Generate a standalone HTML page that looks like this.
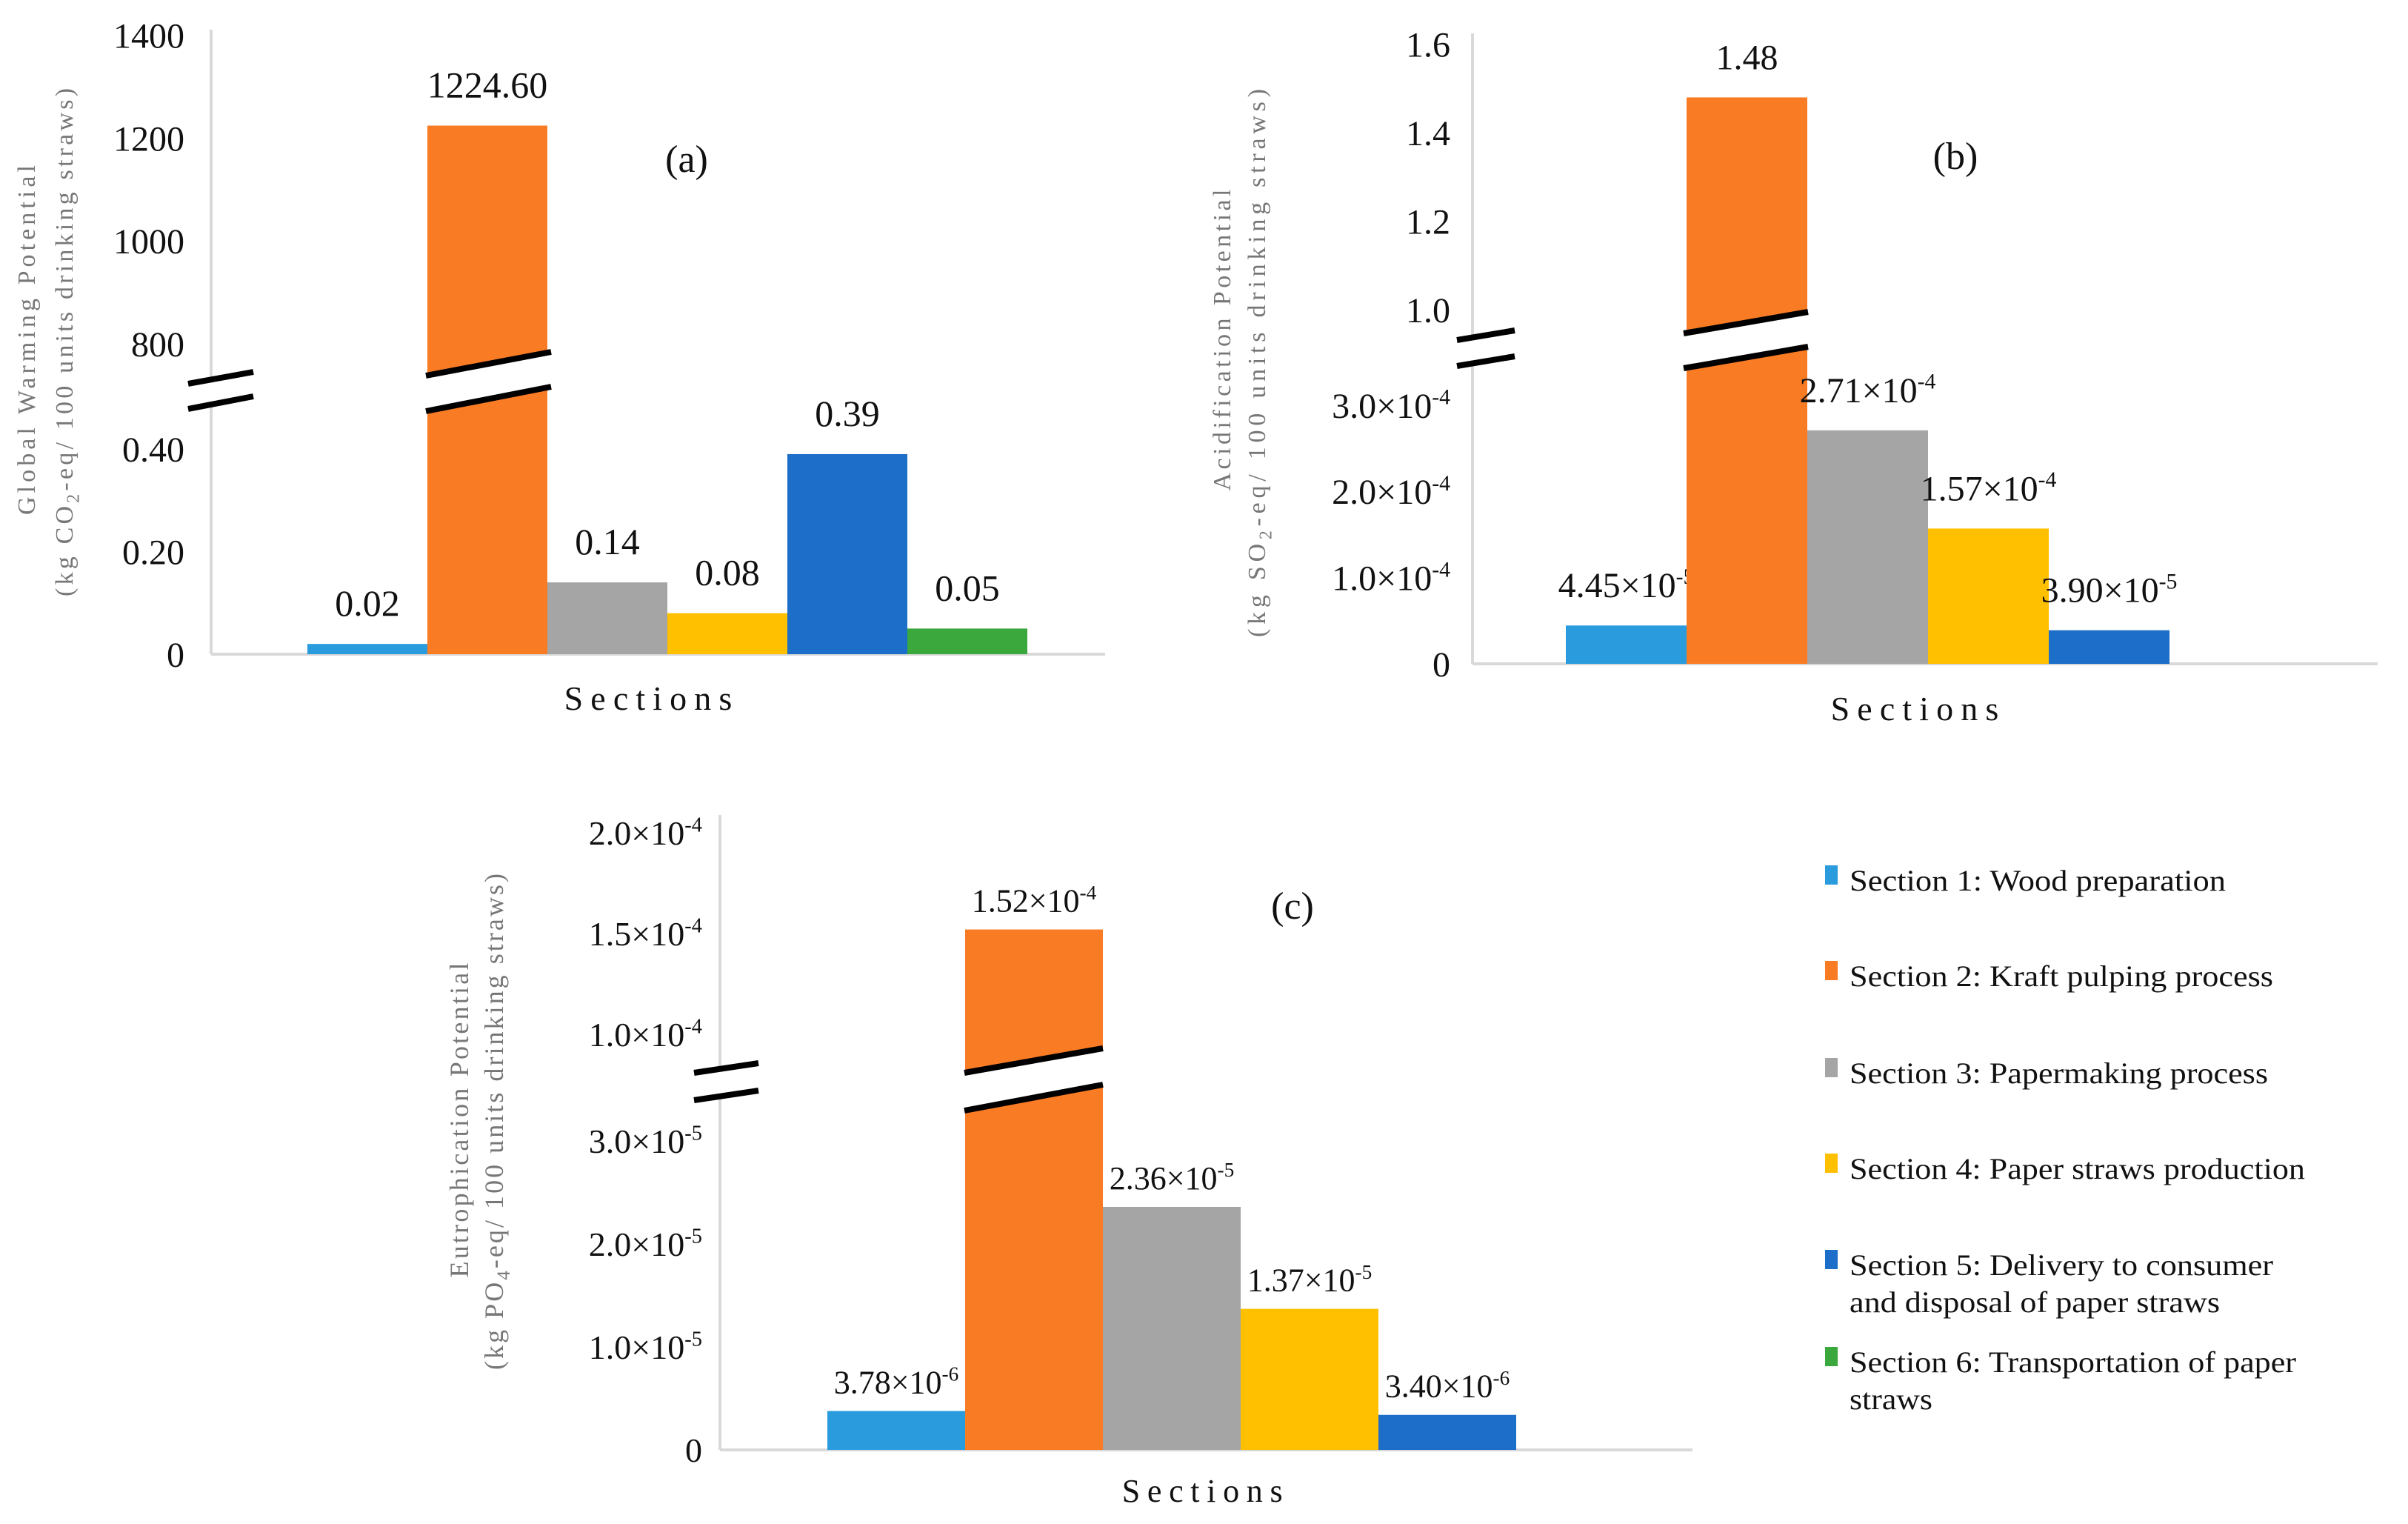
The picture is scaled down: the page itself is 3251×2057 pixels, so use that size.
<!DOCTYPE html>
<html><head><meta charset="utf-8"><style>
html,body{margin:0;padding:0;background:#fff;}
svg{display:block;}
text{font-family:"Liberation Serif",serif;fill:#111;}
.ytitle{fill:#777;}
</style></head><body>
<svg id="fig" width="3251" height="2057" viewBox="0 0 3251 2057" xmlns="http://www.w3.org/2000/svg">
<g id="chartA"></g>
<g id="chartB"></g>
<g id="chartC"></g>
<g id="legend"></g>
</svg>
<script>
const colors = ["#2a9bdc","#f97b24","#a5a5a5","#ffc000","#1c6ec8","#3aa83c"];
const legendNames = [["Section 1: Wood preparation"],["Section 2: Kraft pulping process"],["Section 3: Papermaking process"],["Section 4: Paper straws production"],["Section 5: Delivery to consumer","and disposal of paper straws"],["Section 6: Transportation of paper","straws"]];

const catsA = ["S1","S2","S3","S4","S5","S6"];
const valsA = [0.02, 1224.60, 0.14, 0.08, 0.39, 0.05];
const labelsA = [["0.02"],["1224.60"],["0.14"],["0.08"],["0.39"],["0.05"]];
const ticksLowA = [0, 0.2, 0.4];
const tickLabLowA = [["0"],["0.20"],["0.40"]];
const ticksUpA = [800, 1000, 1200, 1400];
const tickLabUpA = [["800"],["1000"],["1200"],["1400"]];

const catsB = ["S1","S2","S3","S4","S5"];
const valsB = [4.45e-5, 1.48, 2.71e-4, 1.57e-4, 3.90e-5];
const labelsB = [["4.45×10","-5"],["1.48"],["2.71×10","-4"],["1.57×10","-4"],["3.90×10","-5"]];
const ticksLowB = [0, 1e-4, 2e-4, 3e-4];
const tickLabLowB = [["0"],["1.0×10","-4"],["2.0×10","-4"],["3.0×10","-4"]];
const ticksUpB = [1.0, 1.2, 1.4, 1.6];
const tickLabUpB = [["1.0"],["1.2"],["1.4"],["1.6"]];

const catsC = ["S1","S2","S3","S4","S5"];
const valsC = [3.78e-6, 1.52e-4, 2.36e-5, 1.37e-5, 3.40e-6];
const labelsC = [["3.78×10","-6"],["1.52×10","-4"],["2.36×10","-5"],["1.37×10","-5"],["3.40×10","-6"]];
const ticksLowC = [0, 1e-5, 2e-5, 3e-5];
const tickLabLowC = [["0"],["1.0×10","-5"],["2.0×10","-5"],["3.0×10","-5"]];
const ticksUpC = [1.0e-4, 1.5e-4, 2.0e-4];
const tickLabUpC = [["1.0×10","-4"],["1.5×10","-4"],["2.0×10","-4"]];

const NS = "http://www.w3.org/2000/svg";
function mk(tag, attrs, parent){const e=document.createElementNS(NS,tag);for(const k in attrs)e.setAttribute(k,attrs[k]);parent.appendChild(e);return e;}
function txt(parent, parts, x, y, anchor, size){
  const t=mk("text",{x:x,y:y,"text-anchor":anchor,"font-size":size},parent);
  const a=document.createElementNS(NS,"tspan");a.textContent=parts[0];t.appendChild(a);
  if(parts.length>1){const s=document.createElementNS(NS,"tspan");s.setAttribute("dy",-size*0.38);s.setAttribute("font-size",size*0.62);s.textContent=parts[1];t.appendChild(s);}
  return t;
}
function makeScale(base, lowPer, upBase, upVal, upPer, cut){
  return v => v < cut ? base - v*lowPer : upBase - (v-upVal)*upPer;
}
function drawChart(g, cfg){
  const y = cfg.y;
  const ya=mk("line",{x1:cfg.axX,y1:cfg.axTop,x2:cfg.axX,y2:cfg.base,stroke:"#d9d9d9","stroke-width":4},g);
  
  
  const xa=mk("line",{x1:cfg.axX,y1:cfg.base,x2:cfg.axEnd,y2:cfg.base,stroke:"#d9d9d9","stroke-width":4},g);
  
  
  const allT = cfg.ticksLow.concat(cfg.ticksUp), allL = cfg.labLow.concat(cfg.labUp);
  allT.forEach((v,i)=>{
    const t=txt(g, allL[i], cfg.axX-cfg.tickGap, y(v)+cfg.tickSize*0.35, "end", cfg.tickSize);
    
    
  });
  cfg.vals.forEach((v,i)=>{
    const x0=cfg.barX+i*cfg.barW, top=y(v);
    const r=mk("rect",{x:x0,y:top,width:cfg.barW,height:cfg.base-top,fill:colors[i]},g);
    
    
    const t=txt(g, cfg.labels[i], x0+cfg.barW/2, top-cfg.lblGap, "middle", cfg.lblSize);
    
    
  });
  cfg.breaks.forEach(b=>{
    const p=mk("polygon",{points:`${b[0]},${b[1]} ${b[2]},${b[3]} ${b[2]},${b[5]} ${b[0]},${b[4]}`,fill:"#fff"},g);
    
    
    const l1=mk("line",{x1:b[0],y1:b[1],x2:b[2],y2:b[3],stroke:"#000","stroke-width":8},g);
    
    
    const l2=mk("line",{x1:b[0],y1:b[4],x2:b[2],y2:b[5],stroke:"#000","stroke-width":8},g);
    
    
  });
  const pl=mk("text",{x:cfg.panel[0],y:cfg.panel[1],"text-anchor":"middle","font-size":52},g);
  pl.textContent=cfg.panel[2];
  
  
  const xt=mk("text",{x:cfg.xt[0],y:cfg.xt[1],"text-anchor":"middle","font-size":cfg.xtSize,"letter-spacing":cfg.xtSize*0.22,"font-family":"Liberation Sans, sans-serif"},g);
  xt.textContent="Sections";
  
  
  cfg.yt.forEach((ln,k)=>{
    const t=mk("text",{x:0,y:0,"text-anchor":"middle","font-size":cfg.ytSize,class:"ytitle",textLength:ln[3],lengthAdjust:"spacing",transform:`translate(${ln[1]},${ln[2]}) rotate(-90)`},g);
    
    
    if(ln[0].indexOf("|")>=0){
      const s=ln[0].split("|");
      const a=document.createElementNS(NS,"tspan");a.textContent=s[0];t.appendChild(a);
      const b=document.createElementNS(NS,"tspan");b.setAttribute("dy",cfg.ytSize*0.25);b.setAttribute("font-size",cfg.ytSize*0.7);b.textContent=s[1];t.appendChild(b);
      const c=document.createElementNS(NS,"tspan");c.setAttribute("dy",-cfg.ytSize*0.25);c.textContent=s[2];t.appendChild(c);
    } else t.textContent=ln[0];
  });
}

drawChart(document.getElementById("chartA"),{
  y: makeScale(883, 692.5, 464, 800, 0.6935, 100),
  axX:285, axTop:40, base:883, axEnd:1492, tickGap:36, tickSize:48,
  ticksLow:ticksLowA, labLow:tickLabLowA, ticksUp:ticksUpA, labUp:tickLabUpA,
  cats:catsA, vals:valsA, labels:labelsA, barX:415, barW:162, lblGap:38, lblSize:50,
  breaks:[[254,518,342,502,552,535],[575,507,744,475,555,522]],
  panel:[927,232,"(a)"], xt:[880,958], xtSize:46,
  yt:[["Global Warming Potential",47,459,472],["(kg CO|2|-eq/ 100 units drinking straws)",98,462,686]], ytSize:34
});
drawChart(document.getElementById("chartB"),{
  y: makeScale(896, 1.163e6, 418, 1.0, 597, 0.5),
  axX:1988, axTop:45, base:896, axEnd:3210, tickGap:30, tickSize:48,
  ticksLow:ticksLowB, labLow:tickLabLowB, ticksUp:ticksUpB, labUp:tickLabUpB,
  cats:catsB, vals:valsB, labels:labelsB, barX:2114, barW:163, lblGap:38, lblSize:48,
  breaks:[[1967,459,2045,446,494,481],[2273,450,2441,421,497,468]],
  panel:[2640,228,"(b)"], xt:[2590,972], xtSize:46,
  yt:[["Acidification Potential",1661,459,407],["(kg SO|2|-eq/ 100 units drinking straws)",1708,490,740]], ytSize:34
});
drawChart(document.getElementById("chartC"),{
  y: makeScale(1957, 1.39e7, 1396, 1.0e-4, 2.72e6, 6e-5),
  axX:972, axTop:1100, base:1957, axEnd:2285, tickGap:24, tickSize:46,
  ticksLow:ticksLowC, labLow:tickLabLowC, ticksUp:ticksUpC, labUp:tickLabUpC,
  cats:catsC, vals:valsC, labels:labelsC, barX:1117, barW:186, lblGap:24, lblSize:44,
  breaks:[[937,1448,1024,1435,1485,1472],[1302,1448,1489,1415,1499,1464]],
  panel:[1745,1240,"(c)"], xt:[1628,2027], xtSize:44,
  yt:[["Eutrophication Potential",632,1512,425],["(kg PO|4|-eq/ 100 units drinking straws)",679,1514,670]], ytSize:36
});

(function(){
  const g=document.getElementById("legend");
  const ys=[1190,1319,1450,1579,1709,1840];
  const lens=[[508],[572],[565],[615],[572,500],[603,112]];
  legendNames.forEach((n,i)=>{
    const r=mk("rect",{x:2464,y:ys[i]-22,width:17,height:26,fill:colors[i]},g);
    
    
    n.forEach((line,k)=>{
      const t=mk("text",{x:2497,y:ys[i]+12+k*50,"font-size":40,textLength:lens[i][k],lengthAdjust:"spacingAndGlyphs"},g);
      t.textContent=line;
      
      
    });
  });
})();
</script>
</body></html>
